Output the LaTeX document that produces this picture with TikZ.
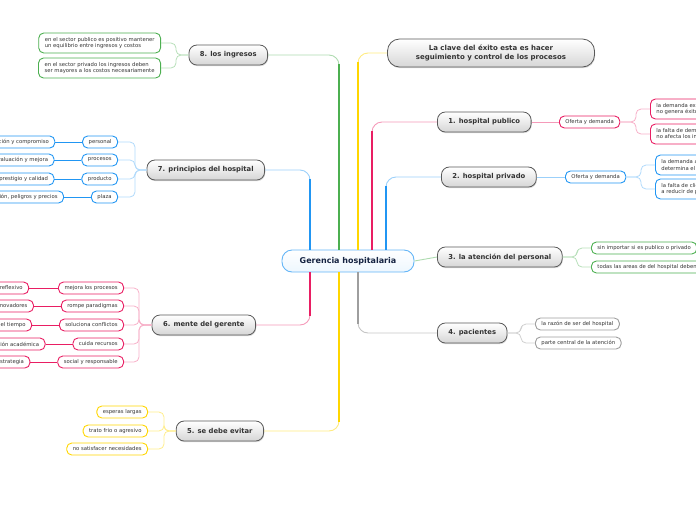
\documentclass[tikz,border=0pt]{standalone}
\usepackage{fontspec}
\setmainfont{DejaVu Sans}
\usetikzlibrary{positioning, shadows}

\definecolor{mapGreen}{RGB}{76,175,80}
\definecolor{mapBlue}{RGB}{33,150,243}
\definecolor{mapRed}{RGB}{233,30,99}
\definecolor{mapYellow}{RGB}{255,214,0}
\definecolor{mapGray}{RGB}{158,158,158}
\definecolor{rootText}{RGB}{22,36,66}

\tikzstyle{rootBox} = [
    rectangle,
    draw=mapBlue!70,
    line width=0.9pt,
    top color=white,
    bottom color=mapBlue!8,
    rounded corners=10pt,
    minimum width=132pt,
    minimum height=22pt,
    font=\fontsize{8}{10}\selectfont\bfseries,
    text=rootText
    ]
\tikzstyle{topicBox} = [
    rectangle,
    draw=black!65,
    line width=0.8pt,
    top color=white,
    bottom color=black!16,
    rounded corners=8pt,
    minimum height=20pt,
    inner xsep=11pt,
    font=\fontsize{6.8}{8}\selectfont\bfseries,
    text=black!80,
    drop shadow={shadow xshift=0.6pt, shadow yshift=-1.2pt, opacity=0.3}
    ]
\tikzstyle{leafBox} = [
    rectangle,
    fill=white,
    line width=0.9pt,
    rounded corners=5pt,
    minimum height=12pt,
    inner xsep=6pt,
    inner ysep=2pt,
    align=left,
    font=\fontsize{5.3}{6.5}\selectfont,
    text=black!80
    ]
\tikzstyle{twoLine} = [minimum height=20pt]
\tikzstyle{greenLeaf} = [leafBox, draw=mapGreen]
\tikzstyle{blueLeaf} = [leafBox, draw=mapBlue]
\tikzstyle{redLeaf} = [leafBox, draw=mapRed]
\tikzstyle{yellowLeaf} = [leafBox, draw=mapYellow]
\tikzstyle{grayLeaf} = [leafBox, draw=mapGray]
\tikzstyle{branchLine} = [line width=0.9pt, rounded corners=10pt]
\tikzstyle{branchTrunk} = [line width=1.8pt, shorten >=9pt]
\tikzstyle{twig} = [line width=0.8pt, rounded corners=5pt]

\begin{document}
\begin{tikzpicture}[x=1pt, y=-1pt]
    \useasboundingbox (0,0) rectangle (696,520);
    \clip (0,0) rectangle (696,520);

    % centre and main topics
    \node[rootBox] at (348,261) (root) {Gerencia hospitalaria};
    \node[topicBox, align=center, minimum width=207pt, minimum height=28pt,
          rounded corners=12pt, font=\fontsize{7}{9}\selectfont\bfseries]
          at (491,53) (clave) {La clave del éxito esta es hacer\\seguimiento y control de los procesos};
    \node[topicBox, anchor=east] at (268,55) (ingresos) {8. los ingresos};
    \node[topicBox, anchor=east] at (265,170) (principios) {7. principios del hospital};
    \node[topicBox, anchor=east] at (256,325) (mente) {6. mente del gerente};
    \node[topicBox, anchor=east] at (264,431) (evitar) {5. se debe evitar};
    \node[topicBox, anchor=west] at (437,122) (publico) {1. hospital publico};
    \node[topicBox, anchor=west] at (441,177) (privado) {2. hospital privado};
    \node[topicBox, anchor=west] at (437,257) (atencion) {3. la atención del personal};
    \node[topicBox, anchor=west] at (437,333) (pacientes) {4. pacientes};

    % trunks from the centre
    \coordinate (upA) at ([xshift=-38pt]root.north);
    \coordinate (upB) at ([xshift=-9pt]root.north);
    \coordinate (upC) at ([xshift=10pt]root.north);
    \coordinate (upD) at ([xshift=24pt]root.north);
    \coordinate (upE) at ([xshift=38pt]root.north);
    \coordinate (downA) at ([xshift=-38pt]root.south);
    \coordinate (downB) at ([xshift=-9pt]root.south);
    \coordinate (downC) at ([xshift=10pt]root.south);

    \draw[branchLine, mapBlue!45] (upA) |- (principios.east);
    \draw[branchTrunk, mapBlue] (upA) -- (upA |- principios.east);
    \draw[branchLine, mapGreen!45] (upB) |- (ingresos.east);
    \draw[branchTrunk, mapGreen] (upB) -- (upB |- ingresos.east);
    \draw[branchLine, mapYellow!50] (upC) |- (clave.west);
    \draw[branchTrunk, mapYellow] (upC) -- (upC |- clave.west);
    \draw[branchLine, mapRed!45] (upD) |- (publico.west);
    \draw[branchTrunk, mapRed] (upD) -- (upD |- publico.west);
    \draw[branchLine, mapBlue!45] (upE) |- (privado.west);
    \draw[branchTrunk, mapBlue] (upE) -- (upE |- privado.west);
    \draw[branchLine, mapRed!45] (downA) |- (mente.east);
    \draw[branchTrunk, mapRed] (downA) -- (downA |- mente.east);
    \draw[branchLine, mapYellow!50] (downB) |- (evitar.east);
    \draw[branchTrunk, mapYellow] (downB) -- (downB |- evitar.east);
    \draw[branchLine, mapGray!60] (downC) |- (pacientes.west);
    \draw[branchTrunk, mapGray] (downC) -- (downC |- pacientes.west);
    \draw[branchLine, mapGreen!45] (root.east) -- (atencion.west);

    % 8. los ingresos
    \node[greenLeaf, twoLine, anchor=east] at (161,43) (ingPublico) {en el sector publico es positivo mantener\\un equilibrio entre ingresos y costos};
    \node[greenLeaf, twoLine, anchor=east] at (161,68) (ingPrivado) {en el sector privado los ingresos deben\\ser mayores a los costos necesariamente};
    \draw[twig, mapGreen!40] (ingPublico.east) -- ++(15,0) |- (ingresos.west);
    \draw[twig, mapGreen!40] (ingPrivado.east) -- ++(15,0) |- (ingresos.west);

    % 7. principios del hospital
    \node[blueLeaf, anchor=east] at (118,142) (personal) {personal};
    \node[blueLeaf, anchor=east] at (118,160) (procesos) {procesos};
    \node[blueLeaf, anchor=east] at (118,179) (producto) {producto};
    \node[blueLeaf, anchor=east] at (118,197) (plaza) {plaza};
    \node[blueLeaf, left=27pt of personal] (compromiso) {motivación y compromiso};
    \node[blueLeaf, left=27pt of procesos] (mejora) {evaluación y mejora};
    \node[blueLeaf, left=27pt of producto] (calidad) {prestigio y calidad};
    \node[blueLeaf, left=27pt of plaza] (precios) {ubicación, peligros y precios};
    \draw[twig, mapBlue!35] (personal.east) -- ++(17,0) |- (principios.west);
    \draw[twig, mapBlue!35] (procesos.east) -- ++(17,0) |- (principios.west);
    \draw[twig, mapBlue!35] (producto.east) -- ++(17,0) |- (principios.west);
    \draw[twig, mapBlue!35] (plaza.east) -- ++(17,0) |- (principios.west);
    \draw[twig, mapBlue] (compromiso) -- (personal);
    \draw[twig, mapBlue] (mejora) -- (procesos);
    \draw[twig, mapBlue] (calidad) -- (producto);
    \draw[twig, mapBlue] (precios) -- (plaza);

    % 6. mente del gerente
    \node[redLeaf, anchor=east] at (124,288) (mejoraProc) {mejora los procesos};
    \node[redLeaf, anchor=east] at (124,306) (paradigmas) {rompe paradigmas};
    \node[redLeaf, anchor=east] at (124,325) (conflictos) {soluciona conflictos};
    \node[redLeaf, anchor=east] at (124,344) (recursos) {cuida recursos};
    \node[redLeaf, anchor=east] at (124,362) (social) {social y responsable};
    \node[redLeaf, left=29pt of mejoraProc] (reflexivo) {crítico y reflexivo};
    \node[redLeaf, left=27pt of paradigmas] (innovadores) {creativos e innovadores};
    \node[redLeaf, left=27pt of conflictos] (tiempo) {administra el tiempo};
    \node[redLeaf, left=27pt of recursos] (academica) {formación académica};
    \node[redLeaf, left=27pt of social] (estrategia) {crea estrategia};
    \draw[twig, mapRed!35] (mejoraProc.east) -- ++(15,0) |- (mente.west);
    \draw[twig, mapRed!35] (paradigmas.east) -- ++(15,0) |- (mente.west);
    \draw[twig, mapRed!35] (conflictos.east) -- ++(15,0) |- (mente.west);
    \draw[twig, mapRed!35] (recursos.east) -- ++(15,0) |- (mente.west);
    \draw[twig, mapRed!35] (social.east) -- ++(15,0) |- (mente.west);
    \draw[twig, mapRed] (reflexivo) -- (mejoraProc);
    \draw[twig, mapRed] (innovadores) -- (paradigmas);
    \draw[twig, mapRed] (tiempo) -- (conflictos);
    \draw[twig, mapRed] (academica) -- (recursos);
    \draw[twig, mapRed] (estrategia) -- (social);

    % 5. se debe evitar
    \node[yellowLeaf, anchor=east] at (148,412) (esperas) {esperas largas};
    \node[yellowLeaf, anchor=east] at (148,431) (trato) {trato frio o agresivo};
    \node[yellowLeaf, anchor=east] at (148,449) (necesidades) {no satisfacer necesidades};
    \draw[twig, mapYellow!45] (esperas.east) -- ++(16,0) |- (evitar.west);
    \draw[twig, mapYellow!45] (trato.east) -- ++(16,0) |- (evitar.west);
    \draw[twig, mapYellow!45] (necesidades.east) -- ++(16,0) |- (evitar.west);

    % 1. hospital publico
    \node[redLeaf, anchor=west] at (559,122) (ofertaPub) {Oferta y demanda};
    \node[redLeaf, twoLine, anchor=west] at (650,109) (demandaPub) {la demanda excesiva\\no genera éxito económico};
    \node[redLeaf, twoLine, anchor=west] at (650,134) (faltaPub) {la falta de demanda\\no afecta los ingresos};
    \draw[twig, mapRed!45] (publico) -- (ofertaPub);
    \draw[twig, mapRed!35] (demandaPub.west) -- ++(-14,0) |- (ofertaPub.east);
    \draw[twig, mapRed!35] (faltaPub.west) -- ++(-14,0) |- (ofertaPub.east);

    % 2. hospital privado
    \node[blueLeaf, anchor=west] at (565,177) (ofertaPriv) {Oferta y demanda};
    \node[blueLeaf, twoLine, anchor=west] at (655,165) (demandaPriv) {la demanda alta\\determina el éxito};
    \node[blueLeaf, twoLine, anchor=west] at (655,189) (faltaPriv) {la falta de clientes lleva\\a reducir de precios};
    \draw[twig, mapBlue!45] (privado) -- (ofertaPriv);
    \draw[twig, mapBlue!35] (demandaPriv.west) -- ++(-14,0) |- (ofertaPriv.east);
    \draw[twig, mapBlue!35] (faltaPriv.west) -- ++(-14,0) |- (ofertaPriv.east);

    % 3. la atencion del personal
    \node[greenLeaf, anchor=west] at (591,248) (importar) {sin importar si es publico o privado};
    \node[greenLeaf, anchor=west] at (591,267) (areas) {todas las areas de del hospital deben ser eficientes};
    \draw[twig, mapGreen!40] (importar.west) -- ++(-14,0) |- (atencion.east);
    \draw[twig, mapGreen!40] (areas.west) -- ++(-14,0) |- (atencion.east);

    % 4. pacientes
    \node[grayLeaf, anchor=west] at (535,324) (razon) {la razón de ser del hospital};
    \node[grayLeaf, anchor=west] at (535,343) (central) {parte central de la atención};
    \draw[twig, mapGray!50] (razon.west) -- ++(-14,0) |- (pacientes.east);
    \draw[twig, mapGray!50] (central.west) -- ++(-14,0) |- (pacientes.east);
\end{tikzpicture}
\end{document}
